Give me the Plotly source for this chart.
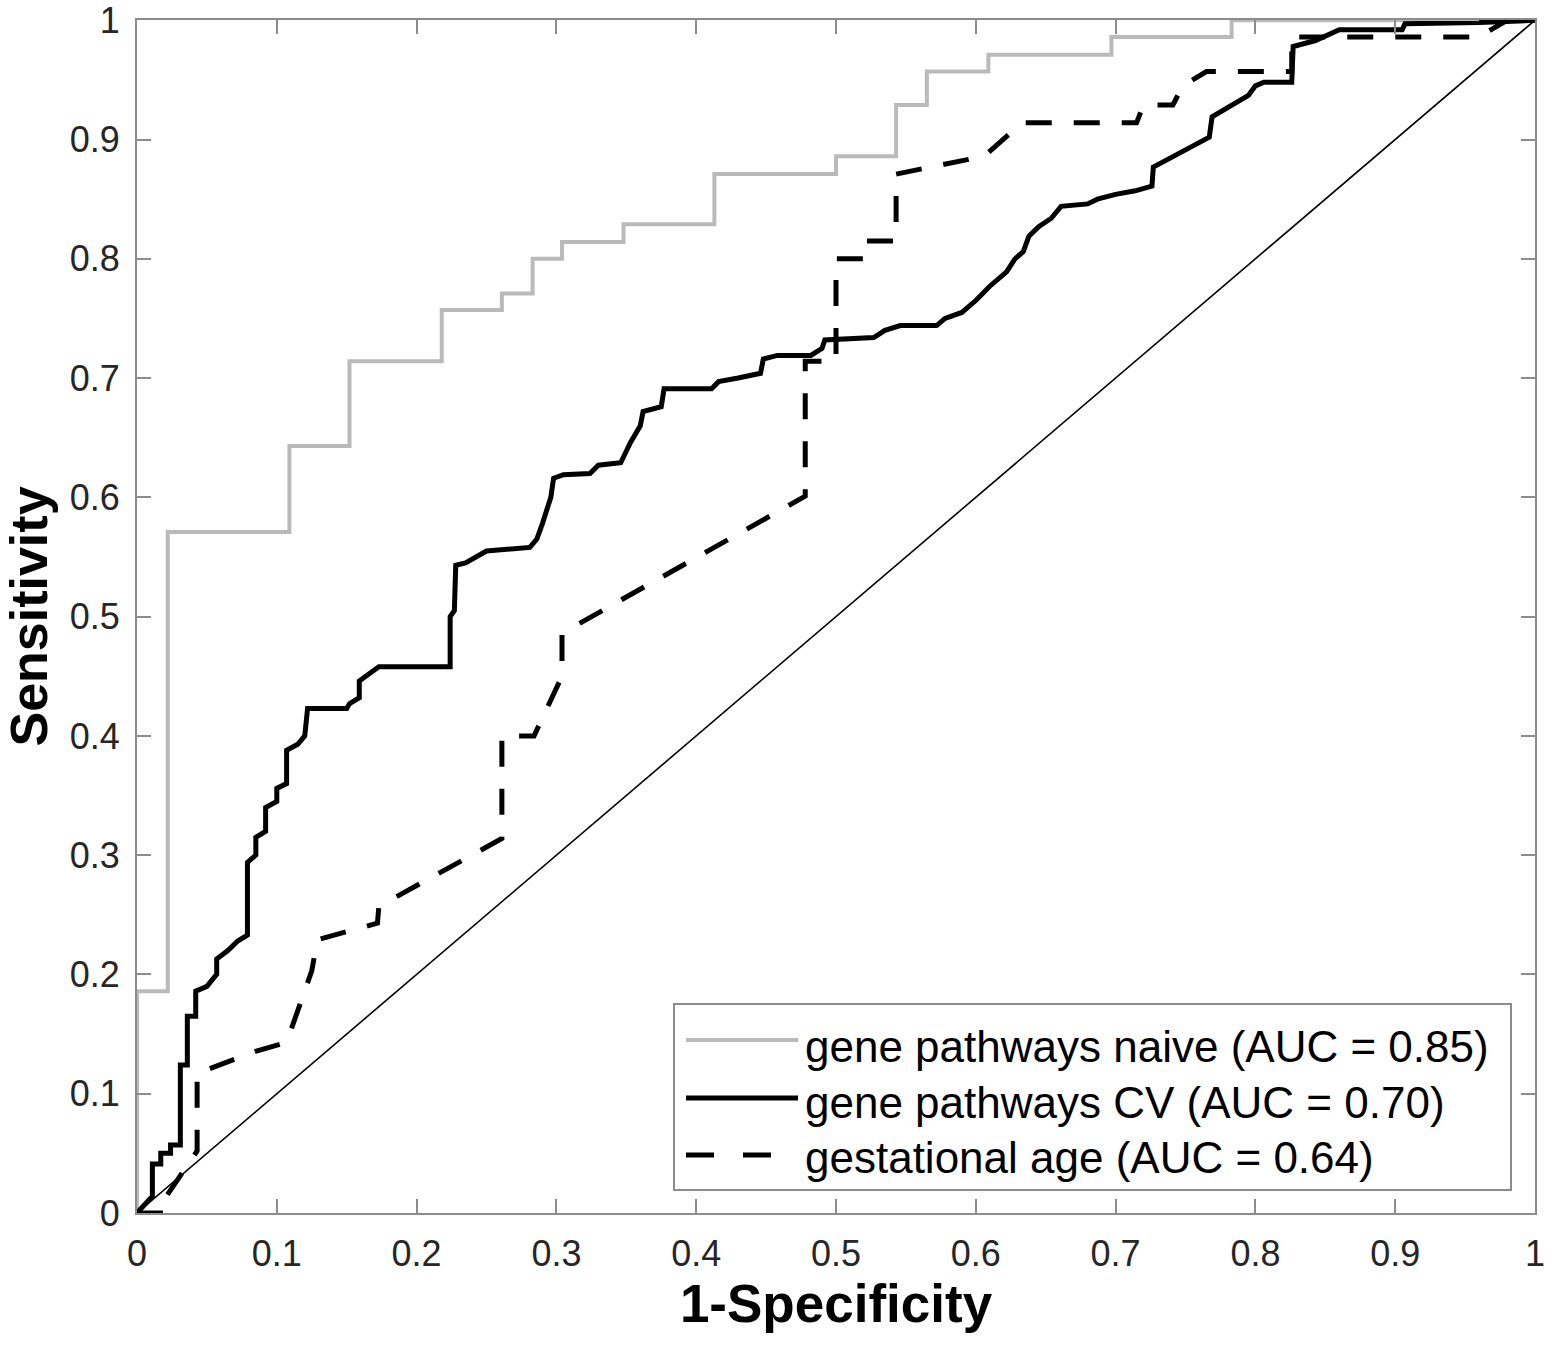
import plotly.graph_objects as go

# ---------------- data ----------------
naive_fpr = [0, 0, 0.022, 0.022, 0.109, 0.109, 0.152, 0.152, 0.218, 0.218, 0.261, 0.261,
             0.283, 0.283, 0.304, 0.304, 0.348, 0.348, 0.413, 0.413, 0.500, 0.500,
             0.543, 0.543, 0.565, 0.565, 0.609, 0.609, 0.697, 0.697, 0.783, 0.783, 1.0]
naive_tpr = [0, 0.186, 0.186, 0.571, 0.571, 0.643, 0.643, 0.714, 0.714, 0.757, 0.757, 0.771,
             0.771, 0.800, 0.800, 0.814, 0.814, 0.829, 0.829, 0.871, 0.871, 0.886,
             0.886, 0.929, 0.929, 0.957, 0.957, 0.971, 0.971, 0.986, 0.986, 1.0, 1.0]

cv_fpr = [0, 0.006, 0.011, 0.011, 0.017, 0.017, 0.024, 0.024, 0.031, 0.031, 0.036, 0.036,
          0.042, 0.042, 0.050, 0.057, 0.057, 0.065, 0.072, 0.079, 0.079, 0.085, 0.085,
          0.092, 0.092, 0.100, 0.100, 0.107, 0.107, 0.115, 0.120, 0.122, 0.150, 0.152,
          0.159, 0.159, 0.166, 0.173, 0.224, 0.224, 0.227, 0.228, 0.235, 0.240, 0.245,
          0.250, 0.281, 0.286, 0.290, 0.292, 0.296, 0.298, 0.305, 0.324, 0.330, 0.346,
          0.350, 0.353, 0.360, 0.362, 0.375, 0.377, 0.411, 0.416, 0.430, 0.446, 0.448,
          0.458, 0.482, 0.490, 0.492, 0.527, 0.535, 0.546, 0.572, 0.578, 0.590, 0.600,
          0.610, 0.622, 0.628, 0.634, 0.638, 0.645, 0.654, 0.661, 0.680, 0.687, 0.700,
          0.714, 0.726, 0.727, 0.740, 0.755, 0.767, 0.769, 0.785, 0.795, 0.800, 0.806,
          0.826, 0.827, 0.843, 0.857, 0.860, 0.905, 0.907, 0.960, 1.0]
cv_tpr = [0, 0.007, 0.014, 0.041, 0.041, 0.050, 0.050, 0.057, 0.057, 0.124, 0.124, 0.165,
          0.165, 0.186, 0.190, 0.200, 0.213, 0.220, 0.228, 0.233, 0.294, 0.300, 0.315,
          0.320, 0.340, 0.345, 0.356, 0.360, 0.388, 0.393, 0.400, 0.423, 0.423, 0.427,
          0.432, 0.446, 0.452, 0.458, 0.458, 0.500, 0.505, 0.543, 0.545, 0.548, 0.552,
          0.555, 0.558, 0.565, 0.578, 0.586, 0.600, 0.616, 0.619, 0.620, 0.627, 0.629,
          0.640, 0.646, 0.660, 0.672, 0.676, 0.691, 0.691, 0.697, 0.700, 0.704, 0.716,
          0.719, 0.719, 0.725, 0.732, 0.734, 0.740, 0.744, 0.744, 0.750, 0.755, 0.765,
          0.777, 0.789, 0.800, 0.806, 0.819, 0.827, 0.834, 0.844, 0.846, 0.850, 0.854,
          0.857, 0.861, 0.877, 0.885, 0.894, 0.902, 0.919, 0.930, 0.937, 0.945, 0.948,
          0.948, 0.978, 0.983, 0.990, 0.992, 0.992, 0.997, 0.998, 1.0]

ga_fpr = [0, 0.021, 0.021, 0.043, 0.043, 0.086, 0.107, 0.125, 0.129, 0.172, 0.173, 0.261,
          0.261, 0.284, 0.304, 0.304, 0.478, 0.478, 0.500, 0.500, 0.522, 0.522, 0.543,
          0.543, 0.606, 0.633, 0.715, 0.720, 0.741, 0.748, 0.765, 0.826, 0.826, 0.960,
          0.980, 1.0]
ga_tpr = [0, 0, 0.014, 0.052, 0.117, 0.136, 0.143, 0.203, 0.229, 0.243, 0.257, 0.314,
          0.400, 0.400, 0.450, 0.486, 0.601, 0.714, 0.714, 0.800, 0.800, 0.815, 0.815,
          0.871, 0.886, 0.914, 0.914, 0.929, 0.929, 0.945, 0.957, 0.957, 0.986, 0.986,
          1.0, 1.0]

chance_x = [0, 1]
chance_y = [0, 1]

series_names = ["gene pathways naive (AUC = 0.85)",
                "gene pathways CV (AUC = 0.70)",
                "gestational age (AUC = 0.64)"]

tick_vals = [0, 0.1, 0.2, 0.3, 0.4, 0.5, 0.6, 0.7, 0.8, 0.9, 1]
tick_text = ["0", "0.1", "0.2", "0.3", "0.4", "0.5", "0.6", "0.7", "0.8", "0.9", "1"]

x_title = "1-Specificity"
y_title = "Sensitivity"

# ---------------- layout constants ----------------
W, H = 1563, 1366
L, R, T, B = 137, 28, 20, 153
PW, PH = W - L - R, H - T - B
FONT = "Liberation Sans, Arial, Helvetica, sans-serif"
GRAY_AX = "#8c8c8c"
GRAY_LINE = "#bababa"


def px_x(p):
    return (p - L) / PW


def px_y(p):
    return (T + PH - p) / PH


fig = go.Figure()
fig.add_trace(go.Scatter(x=naive_fpr, y=naive_tpr, mode="lines", name=series_names[0],
                         line=dict(color=GRAY_LINE, width=4), showlegend=False))
fig.add_trace(go.Scatter(x=cv_fpr, y=cv_tpr, mode="lines", name=series_names[1],
                         line=dict(color="black", width=5), showlegend=False))
fig.add_trace(go.Scatter(x=ga_fpr, y=ga_tpr, mode="lines", name=series_names[2],
                         line=dict(color="black", width=5, dash="26px,22px"),
                         showlegend=False))
fig.add_trace(go.Scatter(x=chance_x, y=chance_y, mode="lines", name="chance",
                         line=dict(color="black", width=1.6), showlegend=False))

axis_common = dict(
    tickvals=tick_vals, ticktext=tick_text,
    ticks="inside", ticklen=14, tickwidth=2, tickcolor=GRAY_AX,
    showline=True, linecolor=GRAY_AX, linewidth=2, mirror="ticks",
    showgrid=False, zeroline=False,
    tickfont=dict(family=FONT, size=36, color="#262626"),
    ticklabelstandoff=8, ticklabeloverflow="allow",
)

fig.update_xaxes(**axis_common, range=[0, 1],
                 title=dict(text="<b>%s</b>" % x_title, standoff=12,
                            font=dict(family=FONT, size=53, color="black")))
fig.update_yaxes(**axis_common, range=[0, 1.0002],
                 title=dict(text="<b>%s</b>" % y_title, standoff=12,
                            font=dict(family=FONT, size=52, color="black")))

# ---------------- legend box (drawn manually, MATLAB style) ----------------
shapes = [dict(type="rect", xref="paper", yref="paper",
               x0=px_x(674), x1=px_x(1511), y0=px_y(1190), y1=px_y(1004),
               line=dict(color=GRAY_AX, width=2), fillcolor="white", layer="above")]
legend_rows = [1046, 1102, 1157]
line_rows = [1040, 1098, 1155]
styles = [dict(color=GRAY_LINE, width=4), dict(color="black", width=5),
          dict(color="black", width=5, dash="28px,29px")]
annotations = []
for name, ty, ly, st in zip(series_names, legend_rows, line_rows, styles):
    shapes.append(dict(type="line", xref="paper", yref="paper",
                       x0=px_x(686), x1=px_x(798), y0=px_y(ly), y1=px_y(ly),
                       line=st, layer="above"))
    annotations.append(dict(text=name, xref="paper", yref="paper",
                            x=px_x(803), y=px_y(ty), xanchor="left", yanchor="middle",
                            showarrow=False,
                            font=dict(family=FONT, size=44, color="black")))

fig.update_layout(
    width=W, height=H,
    margin=dict(l=L, r=R, t=T, b=B, autoexpand=False),
    plot_bgcolor="white", paper_bgcolor="white",
    shapes=shapes, annotations=annotations,
    showlegend=False,
)

fig.write_html("out.html", config={"displayModeBar": False},
               post_script="document.body.style.margin='0';")
